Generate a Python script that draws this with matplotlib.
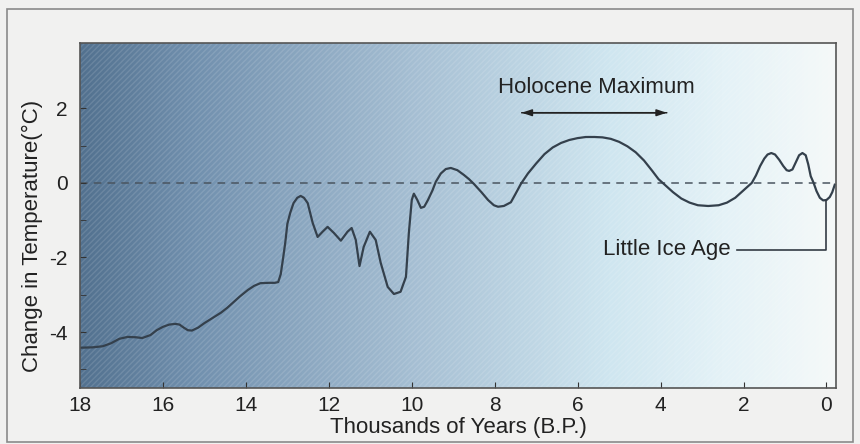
import matplotlib
matplotlib.use("Agg")
import matplotlib.pyplot as plt
import numpy as np
from matplotlib.colors import LinearSegmentedColormap
from matplotlib.patches import Rectangle

plt.rcParams['font.family'] = ['Liberation Sans', 'DejaVu Sans']
plt.rcParams['axes.unicode_minus'] = False

# thousands of years before present, temperature change (deg C)
kyr = [18.0, 17.7, 17.45, 17.25, 17.05, 16.85, 16.65, 16.5, 16.3, 16.15,
       16.0, 15.85, 15.7, 15.6, 15.5, 15.4, 15.3, 15.15, 15.0, 14.8, 14.6,
       14.45, 14.3, 14.15, 13.95, 13.8, 13.65, 13.45, 13.3, 13.22, 13.16,
       13.1, 13.05, 13.0, 12.93, 12.85, 12.76, 12.68, 12.6, 12.51, 12.39,
       12.27, 12.15, 12.03, 11.88, 11.71, 11.55, 11.45, 11.35, 11.26, 11.16,
       11.01, 10.87, 10.75, 10.58, 10.43, 10.27, 10.14, 10.07, 10.0, 9.95,
       9.87, 9.78, 9.7, 9.61, 9.5, 9.42, 9.3, 9.18, 9.06, 8.9, 8.74, 8.62,
       8.5, 8.32, 8.16, 8.02, 7.92, 7.78, 7.61, 7.5, 7.37, 7.2, 7.0, 6.8,
       6.6, 6.4, 6.2, 6.0, 5.8, 5.6, 5.4, 5.2, 5.0, 4.8, 4.6, 4.4, 4.2,
       4.05, 3.9, 3.7, 3.5, 3.3, 3.1, 2.85, 2.6, 2.4, 2.2, 2.0, 1.8, 1.7,
       1.6, 1.5, 1.42, 1.33, 1.24, 1.14, 1.04, 0.96, 0.9, 0.82, 0.74, 0.66,
       0.58, 0.5, 0.44, 0.38, 0.31, 0.24, 0.16, 0.08, 0.0, -0.08, -0.14,
       -0.2]
temp = [-4.42, -4.41, -4.38, -4.3, -4.18, -4.13, -4.14, -4.16, -4.08, -3.95,
        -3.86, -3.8, -3.78, -3.8, -3.88, -3.95, -3.96, -3.88, -3.76, -3.62,
        -3.48, -3.35, -3.2, -3.05, -2.87, -2.76, -2.69, -2.68, -2.68, -2.66,
        -2.45, -2.0, -1.6, -1.1, -0.8, -0.54, -0.4, -0.35, -0.4, -0.54,
        -1.07, -1.45, -1.31, -1.18, -1.34, -1.55, -1.31, -1.21, -1.53, -2.23,
        -1.72, -1.31, -1.53, -2.14, -2.79, -2.98, -2.92, -2.52, -1.34, -0.46,
        -0.29, -0.45, -0.67, -0.64, -0.46, -0.2, 0.03, 0.25, 0.37, 0.4, 0.34,
        0.21, 0.1, -0.03, -0.25, -0.46, -0.6, -0.64, -0.62, -0.52, -0.3,
        -0.03, 0.25, 0.52, 0.77, 0.95, 1.07, 1.15, 1.2, 1.23, 1.23, 1.22,
        1.18, 1.1, 0.98, 0.82, 0.6, 0.32, 0.1, -0.05, -0.25, -0.42, -0.53,
        -0.6, -0.62, -0.6, -0.53, -0.4, -0.2, 0.0, 0.2, 0.45, 0.65, 0.76,
        0.8, 0.76, 0.62, 0.45, 0.34, 0.32, 0.36, 0.55, 0.74, 0.8, 0.74, 0.5,
        0.18, 0.0, -0.22, -0.4, -0.47, -0.46, -0.38, -0.25, -0.05]

xticks = [18, 16, 14, 12, 10, 8, 6, 4, 2, 0]
yticks = [-4, -2, 0, 2]

fig = plt.figure(figsize=(8.6, 4.44), dpi=100)
fig.patch.set_facecolor('#f1f1f0')
fig.patches.append(Rectangle((7/860, 2/444), 846/860, 433/444, transform=fig.transFigure,
                             fill=False, edgecolor='#8a8a8a', linewidth=1.2))
ax = fig.add_axes([80/860, 56/444, 756/860, 345/444])

xmin, xmax = 18.0, -0.23
ymin, ymax = -5.5, 3.75

# background gradient, slate blue on the left to almost white on the right
cmap = LinearSegmentedColormap.from_list('bg', [
    (0.0, '#52718f'), (0.15, '#7190ae'), (0.45, '#a7c0d4'),
    (0.7, '#cfe6f0'), (0.85, '#e4f2f7'), (1.0, '#f5f9f9')])
grad = np.linspace(0, 1, 512).reshape(1, -1)
ax.imshow(grad, cmap=cmap, aspect='auto', extent=[xmin, xmax, ymin, ymax],
          zorder=0)
ax.add_patch(Rectangle((xmin, ymin), xmax - xmin, ymax - ymin, fill=False,
                       hatch='//////', edgecolor=(1, 1, 1, 0.12),
                       linewidth=0, zorder=0.5))

ax.axhline(0, color='#4a5560', linestyle=(0, (5, 4)), linewidth=1.1, zorder=1)
ax.plot(kyr, temp, color='#34404c', linewidth=1.6, zorder=2)

# Holocene Maximum
ax.text(5.55, 2.55, 'Holocene Maximum', ha='center', va='center',
        fontsize=16, color='#222222')
ax.annotate('', xy=(7.35, 1.88), xytext=(3.85, 1.88),
            arrowprops=dict(arrowstyle='-|>,head_length=0.6,head_width=0.2',
                            color='#222222', lw=1.1,
                            shrinkA=0, shrinkB=0))
ax.annotate('', xy=(3.85, 1.88), xytext=(7.35, 1.88),
            arrowprops=dict(arrowstyle='-|>,head_length=0.6,head_width=0.2',
                            color='#222222', lw=1.1,
                            shrinkA=0, shrinkB=0))

# Little Ice Age
ax.plot([0.0, 0.0, 2.15], [-0.47, -1.8, -1.8], color='#333b44', linewidth=1.2,
        zorder=2)
ax.text(2.3, -1.8, 'Little Ice Age', ha='right', va='center', fontsize=16,
        color='#222222')

ax.set_xlim(xmin, xmax)
ax.set_ylim(ymin, ymax)
ax.set_xticks(xticks)
ax.set_yticks(yticks)
ax.set_yticks([-5, -3, -1, 1], minor=True)
ax.tick_params(axis='both', which='both', direction='in', length=4,
               color='#333333', labelsize=15, labelcolor='#222222')
ax.tick_params(axis='x', pad=6)
ax.tick_params(axis='y', pad=9)
ax.set_xlabel('Thousands of Years (B.P.)', fontsize=16, color='#222222',
              labelpad=1)
ax.set_ylabel('Change in Temperature(°C)', fontsize=16, color='#222222')
ax.yaxis.set_label_coords(-0.049, 0.44)
for s in ax.spines.values():
    s.set_color('#555555')
    s.set_linewidth(1.2)

plt.savefig('out.png', dpi=100, facecolor=fig.get_facecolor())
